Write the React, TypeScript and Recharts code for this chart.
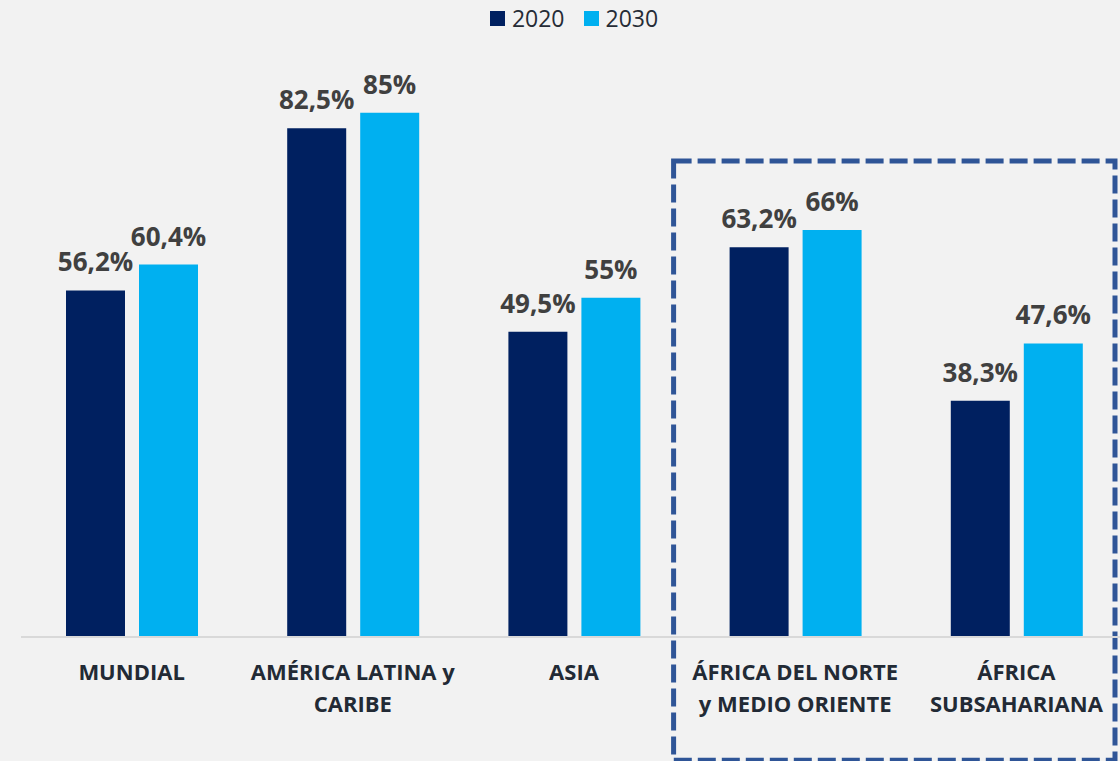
import { BarChart, Bar, XAxis, YAxis, LabelList, Legend, ReferenceArea } from 'recharts'

// regions (line breaks = tick label lines)
const categories = [
  'MUNDIAL',
  'AMÉRICA LATINA y\nCARIBE',
  'ASIA',
  'ÁFRICA DEL NORTE\ny MEDIO ORIENTE',
  'ÁFRICA\nSUBSAHARIANA',
]
const values2020 = [56.2, 82.5, 49.5, 63.2, 38.3]
const values2030 = [60.4, 85, 55, 66, 47.6]
const seriesNames = ['2020', '2030']
const seriesColors = ['#002060', '#00b0f0']

const data = categories.map((name, i) => ({ name, v2020: values2020[i], v2030: values2030[i] }))

const FONT = '"Open Sans", sans-serif'

const fmt = (v: number) => `${String(v).replace('.', ',')}%`

function CategoryTick(props: any) {
  const { x, y, payload } = props
  const lines = String(payload.value).split('\n')
  return (
    <text x={x} y={y} textAnchor="middle" fill="#222a35" fontSize={22} fontWeight={700} fontFamily={FONT}>
      {lines.map((l, i) => (
        <tspan key={i} x={x} dy={i === 0 ? 43 : 32}>
          {l}
        </tspan>
      ))}
    </text>
  )
}

function LegendBox() {
  return (
    <div
      style={{
        display: 'flex',
        justifyContent: 'center',
        alignItems: 'center',
        gap: 19,
        height: 30,
        fontFamily: FONT,
        fontSize: 23,
        color: '#262c36',
      }}
    >
      {seriesNames.map((n, i) => (
        <span key={n} style={{ display: 'flex', alignItems: 'center' }}>
          <span style={{ width: 15, height: 15, background: seriesColors[i], marginRight: 7, display: 'inline-block' }} />
          {n}
        </span>
      ))}
    </div>
  )
}

function DashedBox(props: any) {
  const { x, y, width, height } = props
  return (
    <rect
      x={x - 11}
      y={y}
      width={width - 1}
      height={height}
      fill="none"
      stroke="#2f5597"
      strokeWidth={5}
      strokeDasharray="18 6"
    />
  )
}

export default function App() {
  return (
    <div style={{ position: 'absolute', left: 0, top: 0, width: 1120, height: 761, overflow: 'hidden', background: '#f2f2f2' }}>
      <BarChart
        width={1140}
        height={761}
        data={data}
        margin={{ top: 52, right: 13, bottom: 0, left: 21 }}
        barSize={59}
        barGap={14}
        style={{ fontFamily: FONT }}
      >
        <Legend verticalAlign="top" content={<LegendBox />} wrapperStyle={{ top: 3 }} />
        <XAxis
          dataKey="name"
          axisLine={{ stroke: '#d9d9d9', strokeWidth: 2 }}
          tickLine={false}
          tickSize={0}
          tickMargin={0}
          height={124}
          interval={0}
          tick={<CategoryTick />}
        />
        <YAxis hide domain={[0, 90]} />
        <ReferenceArea
          x1={categories[3]}
          x2={categories[4]}
          y1={-20}
          y2={77.2}
          ifOverflow="visible"
          shape={<DashedBox />}
        />
        <Bar dataKey="v2020" name={seriesNames[0]} fill={seriesColors[0]} isAnimationActive={false}>
          <LabelList dataKey="v2020" position="top" offset={19} formatter={fmt} fill="#404040" fontSize={26} fontWeight={700} fontFamily={FONT} />
        </Bar>
        <Bar dataKey="v2030" name={seriesNames[1]} fill={seriesColors[1]} isAnimationActive={false}>
          <LabelList dataKey="v2030" position="top" offset={19} formatter={fmt} fill="#404040" fontSize={26} fontWeight={700} fontFamily={FONT} />
        </Bar>
      </BarChart>
    </div>
  )
}
